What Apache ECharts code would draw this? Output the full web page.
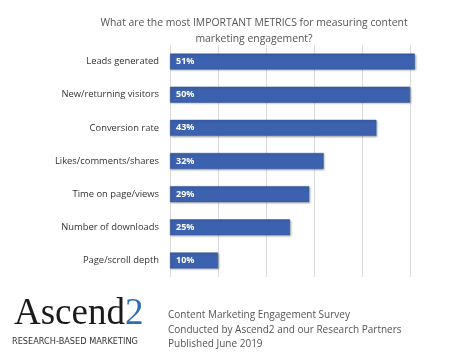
<!DOCTYPE html>
<html>
<head>
<meta charset="utf-8">
<script src="https://cdn.jsdelivr.net/npm/echarts@6/dist/echarts.min.js"></script>
<style>
  html, body { margin: 0; padding: 0; background: #fff; }
  #chart { width: 474px; height: 355px; }
</style>
</head>
<body>
<div id="chart"></div>
<script>
// survey answers, top to bottom
var categories = ['Leads generated', 'New/returning visitors', 'Conversion rate',
  'Likes/comments/shares', 'Time on page/views', 'Number of downloads', 'Page/scroll depth'];
var values = [51, 50, 43, 32, 29, 25, 10];
var xTicks = [0, 10, 20, 30, 40, 50];

var footerLines = ['Content Marketing Engagement Survey',
  'Conducted by Ascend2 and our Research Partners',
  'Published June 2019'];

var chart = echarts.init(document.getElementById('chart'));

chart.setOption({
  animation: false,
  title: {
    text: 'What are the most IMPORTANT METRICS for measuring content\nmarketing engagement?',
    left: 249,
    top: 10,
    textAlign: 'center',
    textStyle: { fontFamily: 'Open Sans', fontSize: 10.4, fontWeight: 'normal', color: '#555', lineHeight: 16 }
  },
  grid: { left: 170, right: 64, top: 45, bottom: 78, containLabel: false },
  xAxis: {
    type: 'value',
    min: xTicks[0],
    max: xTicks[xTicks.length - 1],
    interval: 10,
    axisLabel: { show: false },
    axisLine: { show: false },
    axisTick: { show: false },
    splitLine: { lineStyle: { color: '#dcdcdc', width: 1 } }
  },
  yAxis: {
    type: 'category',
    inverse: true,
    data: categories,
    axisLine: { show: false },
    axisTick: { show: false },
    axisLabel: { fontFamily: 'Open Sans', fontSize: 9.4, color: '#333', margin: 11 }
  },
  series: [{
    type: 'bar',
    data: values,
    clip: false,
    barWidth: 16,
    itemStyle: {
      color: '#3c61ae',
      borderColor: '#34569c',
      borderWidth: 0.5,
      shadowColor: 'rgba(0,0,0,0.3)',
      shadowBlur: 2,
      shadowOffsetX: 1,
      shadowOffsetY: 1
    },
    label: {
      show: true,
      position: 'insideLeft',
      offset: [1, 0],
      formatter: '{c}%',
      color: '#fff',
      fontFamily: 'Open Sans',
      fontWeight: 'bold',
      fontSize: 9
    }
  }],
  graphic: [
    {
      type: 'text',
      left: 14,
      top: 296,
      style: {
        text: '{a|Ascend}{b|2}',
        rich: {
          a: { fontFamily: 'Liberation Serif', fontSize: 37, fill: '#1a1a1a' },
          b: { fontFamily: 'Liberation Serif', fontSize: 37, fill: '#2e6db5' }
        }
      }
    },
    {
      type: 'text',
      left: 12,
      top: 338,
      style: {
        text: 'RESEARCH-BASED MARKETING',
        fontFamily: 'DejaVu Sans',
        fontSize: 8.2,
        fill: '#333'
      }
    },
    {
      type: 'text',
      left: 168,
      top: 308,
      style: {
        text: footerLines.join('\n'),
        fontFamily: 'Open Sans',
        fontSize: 10,
        lineHeight: 14.5,
        fill: '#555'
      }
    }
  ]
});
</script>
</body>
</html>
